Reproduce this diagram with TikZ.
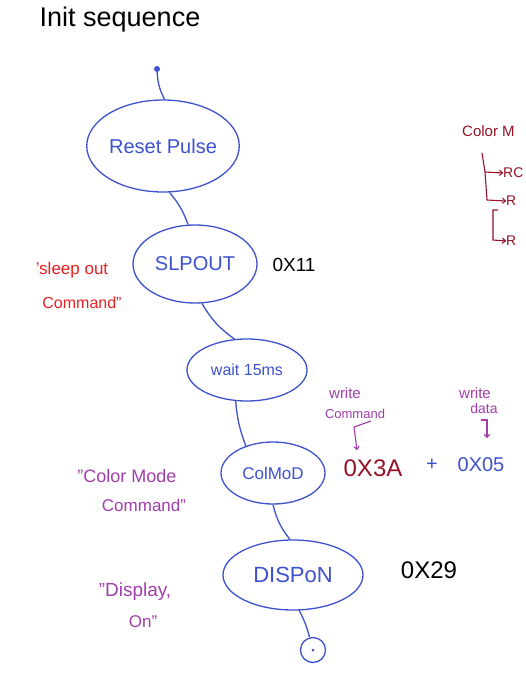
\documentclass[tikz,border=0pt]{standalone}
\usepackage{fontspec}
\setmainfont{Liberation Sans}
\usetikzlibrary{shapes.geometric,arrows.meta}
\definecolor{hblue}{RGB}{62,82,206}
\definecolor{hred}{RGB}{232,32,32}
\definecolor{hdred}{RGB}{150,18,40}
\definecolor{hpurple}{RGB}{162,62,172}
\newcommand\hfs[1]{\fontsize{#1}{#1}\selectfont}
\begin{document}
\begin{tikzpicture}[x=1pt,y=-1pt,
  state/.style={ellipse,draw=hblue,line width=1.3pt,text=hblue,inner sep=0pt},
  link/.style={hblue,line width=1.3pt},
  note/.style={inner sep=0pt},
  ann/.style={line width=1.1pt,-{To[length=4pt,width=6pt]}}]
\useasboundingbox (0,0) rectangle (526,684);
\fill[white] (0,0) rectangle (526,684);
% title
\node[note,font=\hfs{27}] (title) at (120,20) {Init sequence};
% states
\node[circle,fill=hblue,inner sep=0pt,minimum size=6pt] (start) at (157,69) {};
\node[state,minimum width=136pt,minimum height=92pt,font=\hfs{20}] (reset) at (163,146) {Reset Pulse};
\node[state,minimum width=124pt,minimum height=78pt,font=\hfs{20}] (slp) at (195,264) {SLPOUT};
\node[state,minimum width=120pt,minimum height=62pt,font=\hfs{16}] (wait) at (247,370) {wait 15ms};
\node[state,minimum width=104pt,minimum height=62pt,font=\hfs{17}] (colmod) at (273,473) {ColMoD};
\node[state,minimum width=140pt,minimum height=70pt,font=\hfs{22}] (dispon) at (293,575) {DISPoN};
\node[circle,draw=hblue,line width=1.3pt,inner sep=0pt,minimum size=25pt] (end) at (313,650) {};
\node[circle,fill=hblue,inner sep=0pt,minimum size=3pt] (enddot) at (end.center) {};
% connectors
\draw[link] (start) to[bend right=12] (reset.88);
\draw[link] (reset.-82) to[bend left=10] (slp.100);
\draw[link] (slp.-80) to[bend right=12] (wait.112);
\draw[link] (wait.-110) to[bend right=8] (colmod.135);
\draw[link] (colmod.-90) to[bend right=12] (dispon.95);
\draw[link] (dispon.-80) to[bend left=6] (end.105);
% hex codes
\node[note,font=\hfs{19}] (h11) at (294,265) {0X11};
\node[note,font=\hfs{24}] (h29) at (429,570) {0X29};
\node[note,font=\hfs{24},text=hdred] (h3a) at (373,468) {0X3A};
\node[note,font=\hfs{20},text=hblue] (plus) at (432,465) {+};
\node[note,font=\hfs{20},text=hblue] (h05) at (481,465) {0X05};
% red notes
\node[note,font=\hfs{17},text=hred] (sl1) at (72,270) {'sleep out};
\node[note,font=\hfs{16},text=hred] (sl2) at (82,303) {Command"};
% purple notes
\node[note,font=\hfs{18},text=hpurple] (cm1) at (127,476) {"Color Mode};
\node[note,font=\hfs{17},text=hpurple] (cm2) at (144,505) {Command"};
\node[note,font=\hfs{19},text=hpurple] (dp1) at (135,592) {"Display,};
\node[note,font=\hfs{17},text=hpurple] (dp2) at (143,622) {On"};
\node[note,font=\hfs{15},text=hpurple] (wc1) at (345,393) {write};
\node[note,font=\hfs{13},text=hpurple] (wc2) at (355,414) {Command};
\node[note,font=\hfs{15},text=hpurple] (wd1) at (475,393) {write};
\node[note,font=\hfs{14},text=hpurple] (wd2) at (484,408) {data};
\coordinate (wca) at (371,421);
\coordinate (wcb) at (354,427);
\coordinate (wcc) at (357,450);
\draw[ann,hpurple] (wca) -- (wcb) -- (wcc);
\coordinate (wda) at (481,420);
\coordinate (wdb) at (487,420);
\coordinate (wdc) at (487,438);
\draw[ann,hpurple] (wda) -- (wdb) -- (wdc);
% top right (cut off)
\node[note,font=\hfs{15},text=hdred,anchor=west] (cmode) at (462,131) {Color M};
\node[note,font=\hfs{14},text=hdred,anchor=west] (r1) at (503,173) {RC};
\node[note,font=\hfs{14},text=hdred,anchor=west] (r2) at (506,201) {R};
\node[note,font=\hfs{14},text=hdred,anchor=west] (r3) at (506,241) {R};
\coordinate (ba) at (482,153);
\coordinate (bb) at (485,172);
\coordinate (bc) at (487,200);
\draw[hdred,line width=1.1pt] (ba) -- (bb) -- (bc);
\draw[ann,hdred] (bb) -- (r1.west);
\draw[ann,hdred] (bc) -- (r2.west);
\coordinate (bd) at (498,210);
\coordinate (be) at (493,210);
\coordinate (bf) at (493,240);
\draw[ann,hdred] (bd) -- (be) -- (bf) -- (r3.west);
\end{tikzpicture}
\end{document}
